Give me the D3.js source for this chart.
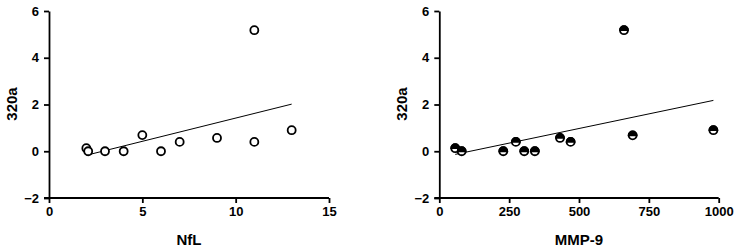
<!DOCTYPE html>
<html><head><meta charset="utf-8">
<script src="https://cdn.jsdelivr.net/npm/d3@7"></script>
<style>body{margin:0;background:#fff}svg{display:block}</style>
</head><body>
<svg id="c" width="742" height="250"></svg>
<script>
const nflX = [2, 2.1, 3, 4, 5, 6, 7, 9, 11, 11, 13];
const nflY = [0.13, 0, 0, 0, 0.69, 0, 0.4, 0.57, 5.18, 0.4, 0.9];
const mmpX = [57, 80, 229, 274, 304, 342, 432, 470, 661, 692, 981];
const mmpY = [0.13, 0, 0, 0.4, 0, 0, 0.57, 0.4, 5.18, 0.68, 0.9];
const yTicks = [-2, 0, 2, 4, 6];
const nflTicks = [0, 5, 10, 15];
const mmpTicks = [0, 250, 500, 750, 1000];

const svg = d3.select("#c");
const font = "'Liberation Sans', Arial, sans-serif";

function fit(xs, ys) {
  const mx = d3.mean(xs), my = d3.mean(ys);
  let sxy = 0, sxx = 0;
  xs.forEach((x, i) => { sxy += (x - mx) * (ys[i] - my); sxx += (x - mx) ** 2; });
  const b = sxy / sxx, a = my - b * mx;
  const x0 = d3.min(xs), x1 = d3.max(xs);
  return [[x0, a + b * x0], [x1, a + b * x1]];
}

function panel(opts) {
  const g = svg.append("g");
  const x = d3.scaleLinear().domain(opts.xDomain).range([opts.left, opts.right]);
  const y = d3.scaleLinear().domain([-2, 6]).range([198, 11]);

  const xa = g.append("g").attr("transform", "translate(0,198)")
    .call(d3.axisBottom(x).tickValues(opts.xTicks).tickSize(5).tickPadding(4).tickSizeOuter(0)
      .tickFormat(d3.format("d")));
  const ya = g.append("g").attr("transform", `translate(${opts.left},0)`)
    .call(d3.axisLeft(y).tickValues(yTicks).tickSize(5).tickPadding(5).tickSizeOuter(0)
      .tickFormat(d => d < 0 ? "\u2212" + Math.abs(d) : d));
  [xa, ya].forEach(a => {
    a.attr("font-family", font).attr("font-size", 13).attr("font-weight", "bold");
    a.select(".domain").attr("stroke", "#000").attr("stroke-width", 1.8);
    a.selectAll(".tick line").attr("stroke", "#000").attr("stroke-width", 1.8);
    a.selectAll(".tick text").attr("fill", "#000").style("font-weight", "bold")
      .style("font-size", "13px").style("font-family", font);
  });
  xa.select(".domain").attr("d", `M${opts.left - 5},0H${opts.right}`);

  const line = fit(opts.xs, opts.ys);
  g.append("line")
    .attr("x1", x(line[0][0])).attr("y1", y(line[0][1]))
    .attr("x2", x(line[1][0])).attr("y2", y(line[1][1]))
    .attr("stroke", "#000").attr("stroke-width", 1);

  const r = 4;
  const pts = g.selectAll("g.pt").data(opts.xs.map((d, i) => [d, opts.ys[i]])).enter()
    .append("g").attr("class", "pt")
    .attr("transform", d => `translate(${x(d[0])},${y(d[1])})`);
  pts.append("circle").attr("r", r).attr("fill", "#fff").attr("stroke", "#000").attr("stroke-width", 1.8);
  if (opts.half) {
    pts.append("path").attr("d", `M${-r},0A${r},${r} 0 0 1 ${r},0Z`)
      .attr("fill", "#000").attr("stroke", "#000").attr("stroke-width", 1.8);
  }

  g.append("text").attr("x", (opts.left + opts.right) / 2).attr("y", 245)
    .attr("text-anchor", "middle").attr("font-family", font).attr("font-weight", "bold")
    .attr("font-size", 15).text(opts.xLabel);
  g.append("text").attr("transform", `translate(${opts.yLabelX},104) rotate(-90)`)
    .attr("text-anchor", "middle").attr("font-family", font).attr("font-weight", "bold")
    .attr("font-size", 15).text("320a");
}

panel({xDomain: [0, 15], left: 49, right: 329, xTicks: nflTicks, xs: nflX, ys: nflY,
       xLabel: "NfL", yLabelX: 16.5, half: false});
panel({xDomain: [0, 1000], left: 439.3, right: 718.7, xTicks: mmpTicks, xs: mmpX, ys: mmpY,
       xLabel: "MMP-9", yLabelX: 406.5, half: true});
</script>
</body></html>
